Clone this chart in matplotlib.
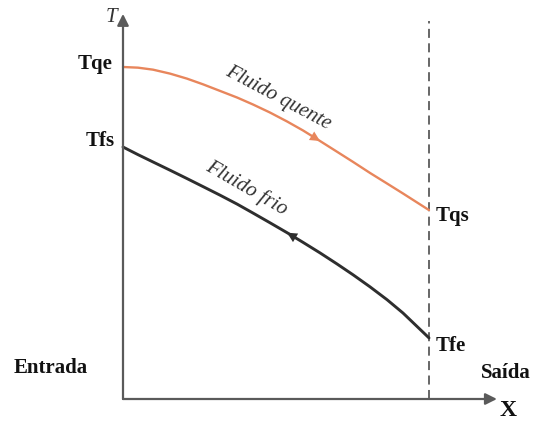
import matplotlib.pyplot as plt
import numpy as np

# posição ao longo do trocador (0 = entrada, 1 = saída)
x_pos = [0, 0.049, 0.098, 0.154, 0.209, 0.261, 0.317, 0.373, 0.425, 0.480,
         0.536, 0.588, 0.644, 0.699, 0.752, 0.807, 0.863, 0.915, 1.0]
T_hot = [100.0, 99.8, 99.2, 98.0, 96.5, 94.8, 92.8, 90.8, 88.7, 86.3,
         83.6, 80.9, 77.7, 74.5, 71.4, 68.1, 64.9, 61.9, 56.9]
T_cold = [75.9, 73.6, 71.4, 68.9, 66.4, 64.0, 61.4, 58.7, 56.0, 53.1,
          50.1, 47.2, 44.0, 40.7, 37.4, 33.8, 29.9, 25.9, 18.4]

hot_color = "#e8865c"
cold_color = "#2e2e2e"
axis_color = "#5a5a5a"
serif = "Liberation Serif"

fig = plt.figure(figsize=(5.34, 4.26), dpi=100)
ax = fig.add_axes([0, 0, 1, 1])
ax.set_xlim(-123 / 306, (534 - 123) / 306)
ax.set_ylim(-27 / 3.32, 399 / 3.32)
ax.axis("off")

# eixos com setas
ax.annotate("", xy=(0, 116), xytext=(0, 0),
            arrowprops=dict(arrowstyle="-|>", color=axis_color, lw=1.6,
                            mutation_scale=17, shrinkA=0, shrinkB=0))
ax.annotate("", xy=(1.222, 0), xytext=(0, 0),
            arrowprops=dict(arrowstyle="-|>", color=axis_color, lw=1.6,
                            mutation_scale=17, shrinkA=0, shrinkB=0))
ax.plot([1, 1], [0, 114], "--", color=axis_color, lw=1.3, dashes=(5, 3))

# curvas
ax.plot(x_pos, T_hot, color=hot_color, lw=1.7, solid_capstyle="round")
ax.plot(x_pos, T_cold, color=cold_color, lw=2.1, solid_capstyle="round")

# setas de sentido do escoamento
ax.annotate("", xy=(x_pos[12], T_hot[12]), xytext=(x_pos[11], T_hot[11]),
            arrowprops=dict(arrowstyle="-|>", color=hot_color, lw=0,
                            mutation_scale=18, shrinkA=0, shrinkB=0))
ax.annotate("", xy=(x_pos[10], T_cold[10]), xytext=(x_pos[11], T_cold[11]),
            arrowprops=dict(arrowstyle="-|>", color=cold_color, lw=0,
                            mutation_scale=18, shrinkA=0, shrinkB=0))

lab = dict(family=serif, fontweight="bold", fontsize=15, color="#111111")
ax.text(-0.035, 101, "Tqe", ha="right", va="center", **lab)
ax.text(-0.026, 77.7, "Tfs", ha="right", va="center", **lab)
ax.text(1.022, 55.1, "Tqs", ha="left", va="center", **lab)
ax.text(1.022, 16.0, "Tfe", ha="left", va="center", **lab)
ax.text(-0.235, 9.3, "Entrada", ha="center", va="center", **lab)
ax.text(1.17, 7.8, "Saída", ha="left", va="center", **lab)
ax.text(1.258, -3.6, "X", ha="center", va="center", family=serif,
        fontweight="bold", fontsize=17, color="#111111")
ax.text(-0.039, 114.8, "T", ha="center", va="center", family=serif,
        style="italic", fontsize=15, color="#333333")

ax.text(0.507, 90.6, "Fluido quente", rotation=-28, ha="center", va="center",
        family=serif, style="italic", fontsize=15, color="#333333",
        rotation_mode="anchor")
ax.text(0.405, 63.4, "Fluido frio", rotation=-30, ha="center", va="center",
        family=serif, style="italic", fontsize=15, color="#333333",
        rotation_mode="anchor")

fig.savefig("out.png", dpi=100, facecolor="white")
